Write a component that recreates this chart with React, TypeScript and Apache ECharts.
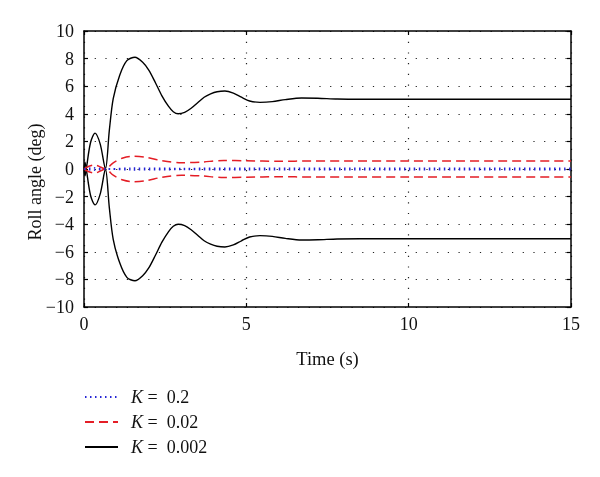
import React, { useEffect, useRef } from "react";
import * as echarts from "echarts";

const xTicks = [0, 5, 10, 15];
const yTicks = [-10, -8, -6, -4, -2, 0, 2, 4, 6, 8, 10];

// K = 0.002 (upper and lower branch)
const tK3 = [0, 0.03, 0.07, 0.2, 0.34, 0.5, 0.66, 0.78, 0.9, 1.1, 1.32, 1.57, 1.8, 2.0, 2.2, 2.4, 2.6, 2.75, 2.9, 3.1, 3.3, 3.5, 3.7, 3.9, 4.1, 4.34, 4.6, 4.85, 5.1, 5.42, 5.8, 6.2, 6.7, 7.2, 7.8, 8.5, 10, 12, 15];
const vK3Up = [0, -0.5, 0, 1.9, 2.6, 1.8, 0, 2.8, 5.1, 6.8, 7.85, 8.1, 7.75, 7.15, 6.25, 5.3, 4.55, 4.15, 4.0, 4.1, 4.4, 4.8, 5.2, 5.45, 5.6, 5.65, 5.5, 5.2, 4.93, 4.83, 4.88, 5.03, 5.15, 5.13, 5.07, 5.05, 5.05, 5.05, 5.05];
const vK3Dn = [0, 0.5, 0, -1.9, -2.6, -1.8, 0, -2.8, -5.1, -6.8, -7.85, -8.1, -7.75, -7.15, -6.25, -5.3, -4.55, -4.15, -4.0, -4.1, -4.4, -4.8, -5.2, -5.45, -5.6, -5.65, -5.5, -5.2, -4.93, -4.83, -4.88, -5.03, -5.15, -5.13, -5.07, -5.05, -5.05, -5.05, -5.05];

// K = 0.02
const tK2 = [0, 0.15, 0.33, 0.5, 0.66, 0.9, 1.2, 1.5, 1.9, 2.4, 3.0, 3.6, 4.3, 5.0, 6, 7, 8, 10, 15];
const vK2Up = [0, 0.2, 0.3, 0.15, 0, 0.45, 0.8, 0.92, 0.85, 0.6, 0.45, 0.5, 0.62, 0.6, 0.56, 0.58, 0.58, 0.58, 0.58];
const vK2Dn = [0, -0.2, -0.3, -0.15, 0, -0.45, -0.8, -0.92, -0.85, -0.6, -0.45, -0.5, -0.62, -0.6, -0.56, -0.58, -0.58, -0.58, -0.58];

// K = 0.2
const tK1 = [0, 0.3, 0.66, 1.5, 3, 5, 10, 15];
const vK1Up = [0, 0.08, 0, 0.06, 0.04, 0.05, 0.05, 0.05];
const vK1Dn = [0, -0.08, 0, -0.06, -0.04, -0.05, -0.05, -0.05];

const names = ["K = 0.2", "K = 0.02", "K = 0.002"];

const FONT = "'Liberation Serif', 'DejaVu Serif', serif";

function pairs(t: number[], v: number[]) {
  return t.map((x, i) => [x, v[i]]);
}

export default function App() {
  const ref = useRef<HTMLDivElement>(null);
  useEffect(() => {
    if (!ref.current) return;
    const chart = echarts.init(ref.current, undefined, { renderer: "svg" });
    const blue = { color: "#2424d6", width: 1.6, type: [1.5, 3.5] as any };
    const red = { color: "#e41e26", width: 1.5, type: [9, 5] as any };
    const black = { color: "#000", width: 1.4, type: "solid" as any };
    const mk = (name: string, data: number[][], ls: any, z: number) => ({
      type: "line",
      name,
      data,
      symbol: "none",
      smooth: 0.3,
      lineStyle: ls,
      itemStyle: { color: ls.color },
      z,
    });
    const split = { show: true, lineStyle: { color: "#222", width: 1.2, type: [1.2, 9.5] as any } };
    const axLine = { show: true, onZero: false, lineStyle: { color: "#000", width: 1.5 } };
    const tick = { show: true, inside: true, length: 4, lineStyle: { color: "#000", width: 1.2 } };
    chart.setOption({
      animation: false,
      textStyle: { fontFamily: FONT },
      grid: { left: 84, top: 31, width: 487, height: 276, containLabel: false },
      xAxis: [
        {
          type: "value", min: 0, max: 15, interval: 5,
          axisLine: axLine, axisTick: tick,
          axisLabel: { color: "#111", fontSize: 18, fontFamily: FONT, margin: 8 },
          splitLine: split,
          name: "Time (s)", nameLocation: "middle", nameGap: 42,
          nameTextStyle: { color: "#111", fontSize: 18.5, fontFamily: FONT },
        },
        {
          type: "value", min: 0, max: 15, interval: 5, position: "top",
          axisLine: axLine, axisTick: tick,
          axisLabel: { show: false }, splitLine: { show: false },
        },
      ],
      yAxis: [
        {
          type: "value", min: -10, max: 10, interval: 2,
          axisLine: axLine, axisTick: tick,
          axisLabel: { color: "#111", fontSize: 18, fontFamily: FONT, margin: 10,
            formatter: (v: number) => (v < 0 ? "\u2212" + Math.abs(v) : String(v)) },
          splitLine: split,
        },
        {
          type: "value", min: -10, max: 10, interval: 2, position: "right",
          axisLine: axLine, axisTick: tick,
          axisLabel: { show: false }, splitLine: { show: false },
        },
      ],
      graphic: [
        {
          type: "text", x: 35, y: 182, rotation: Math.PI / 2,
          style: { text: "Roll angle (deg)", fill: "#111", font: `18px ${FONT}`, align: "center", verticalAlign: "middle" },
        },
      ],
      legend: {
        orient: "vertical", left: 79, top: 383,
        itemWidth: 33, itemHeight: 14, itemGap: 7,
        data: names,
        itemStyle: { opacity: 0 },
        formatter: (n: string) => "{i|K}{e|\u00a0=\u00a0}" + n.slice(3),
        textStyle: {
          color: "#111", fontSize: 18, fontFamily: FONT, padding: [0, 0, 0, 8],
          rich: {
            i: { fontStyle: "italic", fontSize: 18, fontFamily: FONT, color: "#111" },
            e: { fontSize: 18, fontFamily: FONT, color: "#111" },
          },
        },
      },
      series: [
        mk(names[2], pairs(tK3, vK3Up), black, 3),
        mk(names[2], pairs(tK3, vK3Dn), black, 3),
        mk(names[1], pairs(tK2, vK2Up), red, 4),
        mk(names[1], pairs(tK2, vK2Dn), red, 4),
        mk(names[0], pairs(tK1, vK1Up), blue, 5),
        mk(names[0], pairs(tK1, vK1Dn), blue, 5),
      ],
    } as any);
    return () => chart.dispose();
  }, []);
  return <div ref={ref} style={{ position: "fixed", left: 0, top: 0, width: 600, height: 477 }} />;
}
